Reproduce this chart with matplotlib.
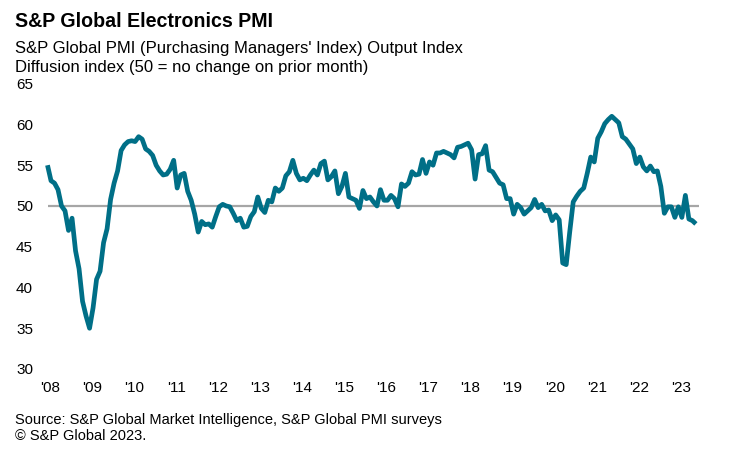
import matplotlib
matplotlib.use("Agg")
import matplotlib.pyplot as plt
import numpy as np

plt.rcParams['font.family'] = ['Liberation Sans', 'DejaVu Sans']

# Monthly S&P Global Electronics PMI Output Index, Jan 2008 - Jun 2023
y2008 = [55.0, 53.1, 52.8, 52.0, 50.0, 49.4, 47.0, 48.5, 44.5, 42.3, 38.3, 36.5]
y2009 = [35.0, 37.5, 41.0, 42.0, 45.5, 47.2, 50.8, 52.8, 54.3, 56.8, 57.5, 57.9]
y2010 = [58.0, 57.9, 58.5, 58.2, 57.0, 56.7, 56.2, 55.0, 54.3, 53.8, 53.9, 54.5]
y2011 = [55.6, 52.2, 53.8, 54.0, 51.8, 50.7, 49.0, 46.8, 48.1, 47.7, 47.8, 47.4]
y2012 = [48.7, 49.9, 50.2, 50.0, 49.9, 49.1, 48.2, 48.5, 47.4, 47.5, 48.7, 49.3]
y2013 = [51.1, 49.7, 49.2, 50.7, 50.5, 52.2, 51.8, 52.2, 53.7, 54.2, 55.6, 54.0]
y2014 = [53.2, 53.4, 53.1, 53.8, 54.4, 53.8, 55.2, 55.5, 53.2, 53.6, 54.3, 51.5]
y2015 = [52.4, 54.0, 51.1, 50.9, 50.7, 49.7, 51.9, 50.9, 51.1, 50.5, 50.0, 52.0]
y2016 = [50.7, 50.7, 51.3, 50.9, 49.9, 52.7, 52.4, 52.8, 54.2, 53.8, 53.9, 55.7]
y2017 = [54.0, 55.4, 55.0, 56.5, 56.5, 56.7, 56.5, 56.3, 55.9, 57.2, 57.3, 57.5]
y2018 = [57.7, 56.9, 53.3, 56.3, 56.4, 57.4, 54.4, 54.2, 53.5, 52.8, 52.6, 50.9]
y2019 = [50.9, 49.0, 50.2, 49.8, 49.0, 49.4, 49.8, 50.8, 49.8, 50.2, 49.4, 49.5]
y2020 = [48.2, 48.9, 48.3, 43.0, 42.8, 46.8, 50.5, 51.2, 51.8, 52.2, 54.0, 56.0]
y2021 = [55.4, 58.3, 59.1, 60.1, 60.6, 61.0, 60.6, 60.2, 58.5, 58.2, 57.6, 57.0]
y2022 = [55.2, 56.0, 54.8, 54.3, 54.9, 54.2, 54.3, 52.4, 49.1, 49.9, 49.9, 48.6]
y2023 = [49.9, 48.6, 51.3, 48.4, 48.2, 47.8]

values = (y2008 + y2009 + y2010 + y2011 + y2012 + y2013 + y2014 + y2015 +
          y2016 + y2017 + y2018 + y2019 + y2020 + y2021 + y2022 + y2023)
years = list(range(2008, 2024))
year_labels = ["'%02d" % (y % 100) for y in years]
y_ticks = [30, 35, 40, 45, 50, 55, 60, 65]

months = np.arange(len(values))

W, H = 750, 450
fig = plt.figure(figsize=(7.5, 4.5), dpi=100)
ax = fig.add_axes([40 / W, 1 - 369 / H, 665 / W, (369 - 83.7) / H])

ax.hlines(50, 0, len(values), color='#a6a6a6', lw=1.6, zorder=1)
ax.plot(months, values, color='#006f87', lw=3.4, solid_joinstyle='round',
        solid_capstyle='butt', zorder=2)

ax.set_ylim(30, 65)
ax.set_xlim(-2.14, 187.6)
ax.set_yticks(y_ticks)
ax.set_yticklabels([str(t) for t in y_ticks])
ax.set_xticks([12 * k + 0.7 for k in range(len(years))])
ax.set_xticklabels(year_labels)
ax.tick_params(axis='both', length=0, labelsize=11, colors='black')
ax.tick_params(axis='y', pad=5)
ax.tick_params(axis='x', pad=9)
for s in ax.spines.values():
    s.set_visible(False)

fig.text(15 / W, 1 - 12 / H, "S&P Global Electronics PMI", fontsize=14.1,
         fontweight='bold', va='top', ha='left')
fig.text(15 / W, 1 - 41 / H, "S&P Global PMI (Purchasing Managers' Index) Output Index",
         fontsize=12, va='top', ha='left')
fig.text(15 / W, 1 - 60 / H, "Diffusion index (50 = no change on prior month)",
         fontsize=12, va='top', ha='left')
fig.text(15 / W, 1 - 413 / H, "Source: S&P Global Market Intelligence, S&P Global PMI surveys",
         fontsize=10.5, va='top', ha='left')
fig.text(15 / W, 1 - 429 / H, "\u00a9 S&P Global 2023.",
         fontsize=10.5, va='top', ha='left')

fig.savefig("out.png", dpi=100)
